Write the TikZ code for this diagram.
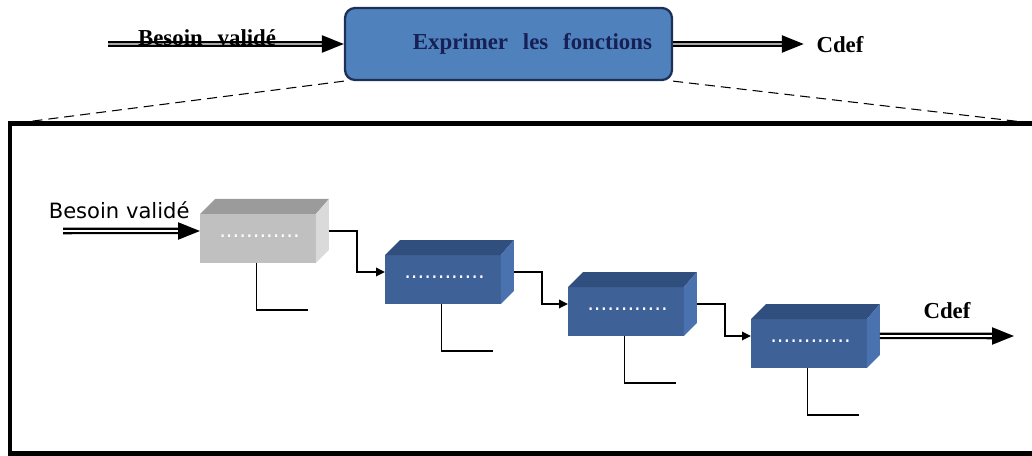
\documentclass[tikz,border=0pt]{standalone}
\usepackage{fontspec}
\setmainfont{Liberation Serif}
\newfontfamily\widefont[WordSpace=2.6]{Liberation Serif}
\newfontfamily\verdanafont{DejaVu Sans}
\usetikzlibrary{
  arrows.meta,
  calc,
  positioning
}
\definecolor{taskblue}{RGB}{79,129,189}
\definecolor{taskedge}{RGB}{28,48,88}
\definecolor{taskink}{RGB}{22,32,84}
\definecolor{cubeblue}{RGB}{62,97,152}
\definecolor{cubebluetop}{RGB}{48,78,126}
\definecolor{cubeblueside}{RGB}{74,114,174}
\definecolor{cubegray}{RGB}{192,192,192}
\definecolor{cubegraytop}{RGB}{155,155,155}
\definecolor{cubegrayside}{RGB}{218,218,218}
\tikzset{
  big flow/.style={
    line width=1.35pt,
    double=#1,
    double distance=1pt,
    -{Triangle[length=.44cm,width=.34cm]}
  },
  big flow/.default=white,
  step link/.style={line width=1pt,-{Triangle[length=.18cm,width=.17cm]}},
  lead/.style={line width=1pt},
  guide/.style={line width=.6pt,dash pattern=on .2cm off .12cm},
  task/.style={
    draw=taskedge,
    line width=1.3pt,
    fill=taskblue,
    rounded corners=.2cm,
    minimum width=6.54cm,
    minimum height=1.44cm,
    text=taskink,
    font=\widefont\bfseries\fontsize{13}{15}\selectfont
  },
  toplabel/.style={font=\widefont\bfseries\fontsize{13}{15}\selectfont},
  sanslabel/.style={font=\verdanafont\fontsize{12}{14}\selectfont},
  cube/.style={minimum width=2.58cm,minimum height=1.28cm,inner sep=0pt,outer sep=0pt},
  dotrow/.style={text=white,font=\verdanafont\fontsize{12}{14}\selectfont,inner sep=0pt},
  zoom frame/.style={
    draw=black,
    line width=.1cm,
    minimum width=20.6cm,
    minimum height=6.6cm,
    outer sep=0pt
  }
}
\newcommand{\cubebox}[3]{%
  \node[cube,anchor=north west] (#1) at (#2) {};%
  \fill[cube#3] ($(#1.north west)+(0,15)$) rectangle ($(#1.south east)+(-13,0)$);%
  \fill[cube#3top] ($(#1.north west)+(0,15)$) -- ($(#1.north west)+(15,0)$) --
    (#1.north east) -- ($(#1.north east)+(-13,15)$) -- cycle;%
  \fill[cube#3side] ($(#1.north east)+(-13,15)$) -- (#1.north east) --
    ($(#1.south east)+(0,-13)$) -- ($(#1.south east)+(-13,0)$) -- cycle;%
  \node[dotrow] (#1dots) at ($(#1.center)+(-5,5)$) {............};%
}

\begin{document}
\begin{tikzpicture}[x=.02cm,y=-.02cm]
  \clip (0,0) rectangle (1032,456);

  \node[task] (task) at (508.5,44) {\hspace*{.96cm}Exprimer les fonctions};
  \coordinate (need) at (108,44);
  \draw[big flow=black!35] (need) -- (task.west)
    node[pos=.42,above=-1.5pt,inner sep=0pt,toplabel] (needtop) {Besoin validé};
  \node[toplabel] (cdeftop) at (840,45) {Cdef};
  \draw[big flow=black!35,shorten >=.13cm] (task.east) -- (task.east -| cdeftop.west);

  \node[zoom frame,anchor=north west] (zoom) at (10,124) {};
  \draw[guide] (task.south west) -- (zoom.north west);
  \draw[guide] (task.south east) -- (zoom.north east);

  \foreach \i/\x/\y/\tone in {1/200/199/gray,2/385/240/blue,3/568/272/blue,4/751/304/blue} {
    \cubebox{b\i}{\x,\y}{\tone}
    \draw[lead] ($(b\i.south)+(-8,0)$) |- ++(52,47);
  }
  \foreach \i [evaluate=\i as \j using int(\i+1)] in {1,2,3}
    \draw[step link] (b\i.east) -- ++(28,0) |- (b\j.west);

  \coordinate (start) at (63,231);
  \draw[big flow] (start) -- (b1.west)
    node[pos=.41,above=.22cm,inner sep=0pt,sanslabel] (need) {Besoin validé};
  \coordinate (finish) at (1014,336);
  \draw[big flow] (b4.east) -- (finish)
    node[midway,above=.32cm,inner sep=0pt,toplabel] (cdef) {Cdef};
\end{tikzpicture}
\end{document}
